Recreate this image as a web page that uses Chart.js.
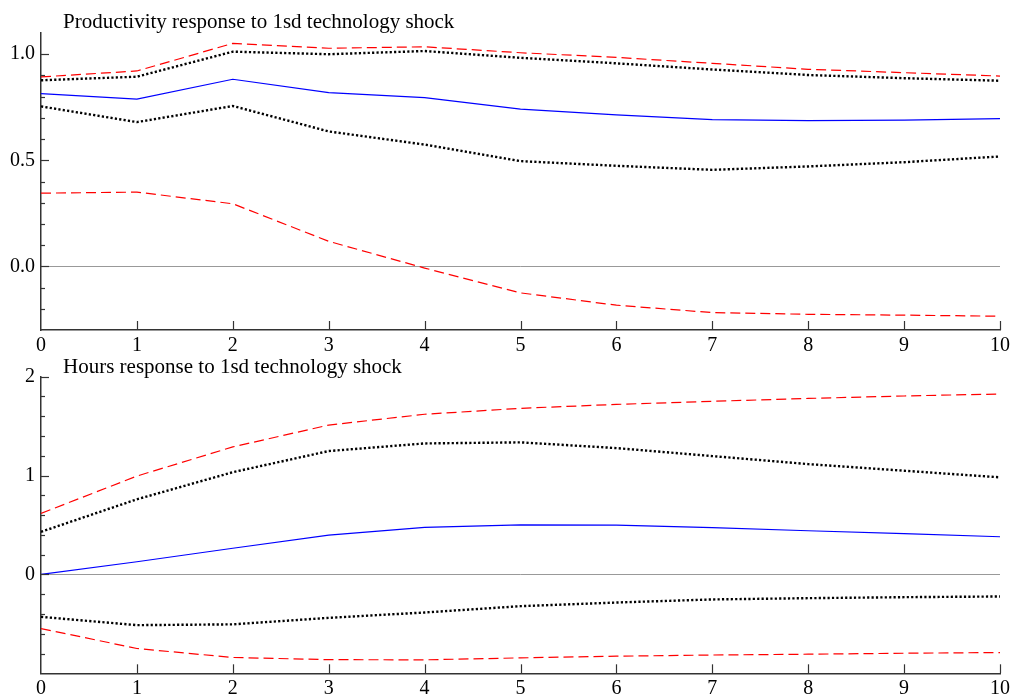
<!DOCTYPE html>
<html>
<head>
<meta charset="utf-8">
<title>Impulse responses to a technology shock</title>
<script src="https://cdn.jsdelivr.net/npm/chart.js@4.4.1/dist/chart.umd.min.js"></script>
<style>
  html, body { margin: 0; padding: 0; background: #fff; }
  #wrap { position: relative; width: 1016px; height: 700px; overflow: hidden; }
  canvas { position: absolute; left: 0; }
  #prodCanvas { top: 0; }
  #hoursCanvas { top: 356px; }
</style>
</head>
<body>
<div id="wrap">
  <canvas id="prodCanvas" width="1016" height="356"></canvas>
  <canvas id="hoursCanvas" width="1016" height="344"></canvas>
</div>
<script>
// Horizon (periods after the shock)
const periods = [0, 1, 2, 3, 4, 5, 6, 7, 8, 9, 10];

// Productivity response: point estimate with 68% (dotted) and 95% (dashed) bands
const prodTitle = 'Productivity response to 1sd technology shock';
const prodMean    = [0.814, 0.788, 0.882, 0.819, 0.795, 0.741, 0.714, 0.692, 0.687, 0.689, 0.696];
const prodUpper68 = [0.877, 0.894, 1.012, 1.000, 1.015, 0.983, 0.957, 0.928, 0.902, 0.887, 0.875];
const prodLower68 = [0.754, 0.680, 0.756, 0.636, 0.574, 0.496, 0.474, 0.455, 0.471, 0.491, 0.518];
const prodUpper95 = [0.893, 0.921, 1.051, 1.028, 1.035, 1.007, 0.985, 0.957, 0.929, 0.913, 0.897];
const prodLower95 = [0.345, 0.350, 0.295, 0.118, -0.008, -0.125, -0.183, -0.218, -0.226, -0.230, -0.235];
const prodTickValues = [0, 0.5, 1.0];

// Hours response
const hoursTitle = 'Hours response to 1sd technology shock';
const hoursMean    = [0.000, 0.128, 0.265, 0.398, 0.476, 0.502, 0.498, 0.474, 0.442, 0.413, 0.381];
const hoursUpper68 = [0.431, 0.760, 1.034, 1.248, 1.325, 1.336, 1.278, 1.197, 1.116, 1.049, 0.982];
const hoursLower68 = [-0.429, -0.513, -0.505, -0.439, -0.385, -0.321, -0.284, -0.253, -0.240, -0.230, -0.223];
const hoursUpper95 = [0.617, 0.995, 1.290, 1.511, 1.620, 1.680, 1.720, 1.751, 1.780, 1.805, 1.825];
const hoursLower95 = [-0.547, -0.749, -0.840, -0.862, -0.864, -0.844, -0.827, -0.815, -0.807, -0.797, -0.790];
const hoursTickValues = [0, 1, 2];

const AXIS_COLOR = '#333';
const SERIF = '"Liberation Serif", "Times New Roman", serif';

Chart.defaults.font.family = SERIF;
Chart.defaults.font.size = 20;
Chart.defaults.color = '#000';

function toPoints(values) {
  return values.map((v, i) => ({ x: periods[i], y: v }));
}

function bandSets(mean, up68, lo68, up95, lo95) {
  const dotted = { borderColor: '#000', borderWidth: 2.4, borderDash: [2.2, 2.2] };
  const dashed = { borderColor: '#ff0000', borderWidth: 1.2, borderDash: [10, 5] };
  return [
    Object.assign({ data: toPoints(up95) }, dashed),
    Object.assign({ data: toPoints(lo95) }, dashed),
    Object.assign({ data: toPoints(up68) }, dotted),
    Object.assign({ data: toPoints(lo68) }, dotted),
    { data: toPoints(mean), borderColor: '#0000ff', borderWidth: 1.2 }
  ];
}

// Inward tick marks (major + minor) and the panel heading
function panelDecor(title, titleBaseline, minorStep, majorValues) {
  return {
    id: 'panelDecor',
    afterDraw(chart) {
      const { ctx, chartArea: a, scales: { x, y } } = chart;
      ctx.save();
      ctx.strokeStyle = AXIS_COLOR;
      ctx.lineWidth = 1.2;
      x.ticks.forEach(t => {
        if (t.value === x.min) return;
        const px = Math.round(x.getPixelForValue(t.value)) + 0.5;
        ctx.beginPath();
        ctx.moveTo(px, a.bottom);
        ctx.lineTo(px, a.bottom - 9);
        ctx.stroke();
      });
      const n = Math.round((y.max - y.min) / minorStep);
      for (let i = 0; i <= n; i++) {
        const v = y.min + i * minorStep;
        const major = majorValues.some(m => Math.abs(m - v) < 1e-6);
        if (!major && (i === 0 || i === n)) continue;
        const py = Math.round(y.getPixelForValue(v)) + 0.5;
        ctx.beginPath();
        ctx.moveTo(a.left, py);
        ctx.lineTo(a.left + (major ? 8 : 4), py);
        ctx.stroke();
      }
      ctx.fillStyle = '#000';
      ctx.font = '21px ' + SERIF;
      ctx.textAlign = 'left';
      ctx.textBaseline = 'alphabetic';
      ctx.fillText(title, a.left + 22, titleBaseline);
      ctx.restore();
    }
  };
}

function makePanel(canvasId, cfg) {
  return new Chart(document.getElementById(canvasId), {
    type: 'line',
    data: { datasets: cfg.datasets },
    options: {
      responsive: false,
      animation: false,
      events: [],
      layout: { padding: { top: cfg.padTop, right: 16, bottom: 0, left: 0 } },
      elements: {
        line: { tension: 0, fill: false, borderCapStyle: 'butt' },
        point: { radius: 0 }
      },
      plugins: { legend: { display: false }, tooltip: { enabled: false }, title: { display: false } },
      scales: {
        x: {
          type: 'linear',
          min: 0,
          max: 10,
          afterBuildTicks: s => { s.ticks = periods.map(v => ({ value: v })); },
          afterFit: s => { s.height = cfg.xHeight; },
          ticks: { padding: cfg.xPad, autoSkip: false, callback: v => String(v) },
          grid: { display: false, drawTicks: false },
          border: { display: true, color: AXIS_COLOR, width: 1.5 }
        },
        y: {
          type: 'linear',
          min: cfg.yMin,
          max: cfg.yMax,
          afterBuildTicks: s => { s.ticks = cfg.tickValues.map(v => ({ value: v })); },
          afterFit: s => { s.width = 41; },
          ticks: { padding: 6, callback: cfg.fmt },
          grid: {
            drawTicks: false,
            lineWidth: 1,
            color: c => (c.tick && c.tick.value === 0 ? '#999' : 'rgba(0,0,0,0)')
          },
          border: { display: true, color: AXIS_COLOR, width: 1.5 }
        }
      }
    },
    plugins: [panelDecor(cfg.title, cfg.titleBaseline, cfg.minorStep, cfg.tickValues)]
  });
}

makePanel('prodCanvas', {
  title: prodTitle,
  titleBaseline: 28,
  datasets: bandSets(prodMean, prodUpper68, prodLower68, prodUpper95, prodLower95),
  yMin: -0.3, yMax: 1.1,
  tickValues: prodTickValues,
  minorStep: 0.1,
  fmt: v => Number(v).toFixed(1),
  padTop: 33, xHeight: 26, xPad: 3.5
});

makePanel('hoursCanvas', {
  title: hoursTitle,
  titleBaseline: 17,
  datasets: bandSets(hoursMean, hoursUpper68, hoursLower68, hoursUpper95, hoursLower95),
  yMin: -1, yMax: 2,
  tickValues: hoursTickValues,
  minorStep: 0.2,
  fmt: v => String(v),
  padTop: 20.7, xHeight: 26.7, xPad: 3.7
});
</script>
</body>
</html>
